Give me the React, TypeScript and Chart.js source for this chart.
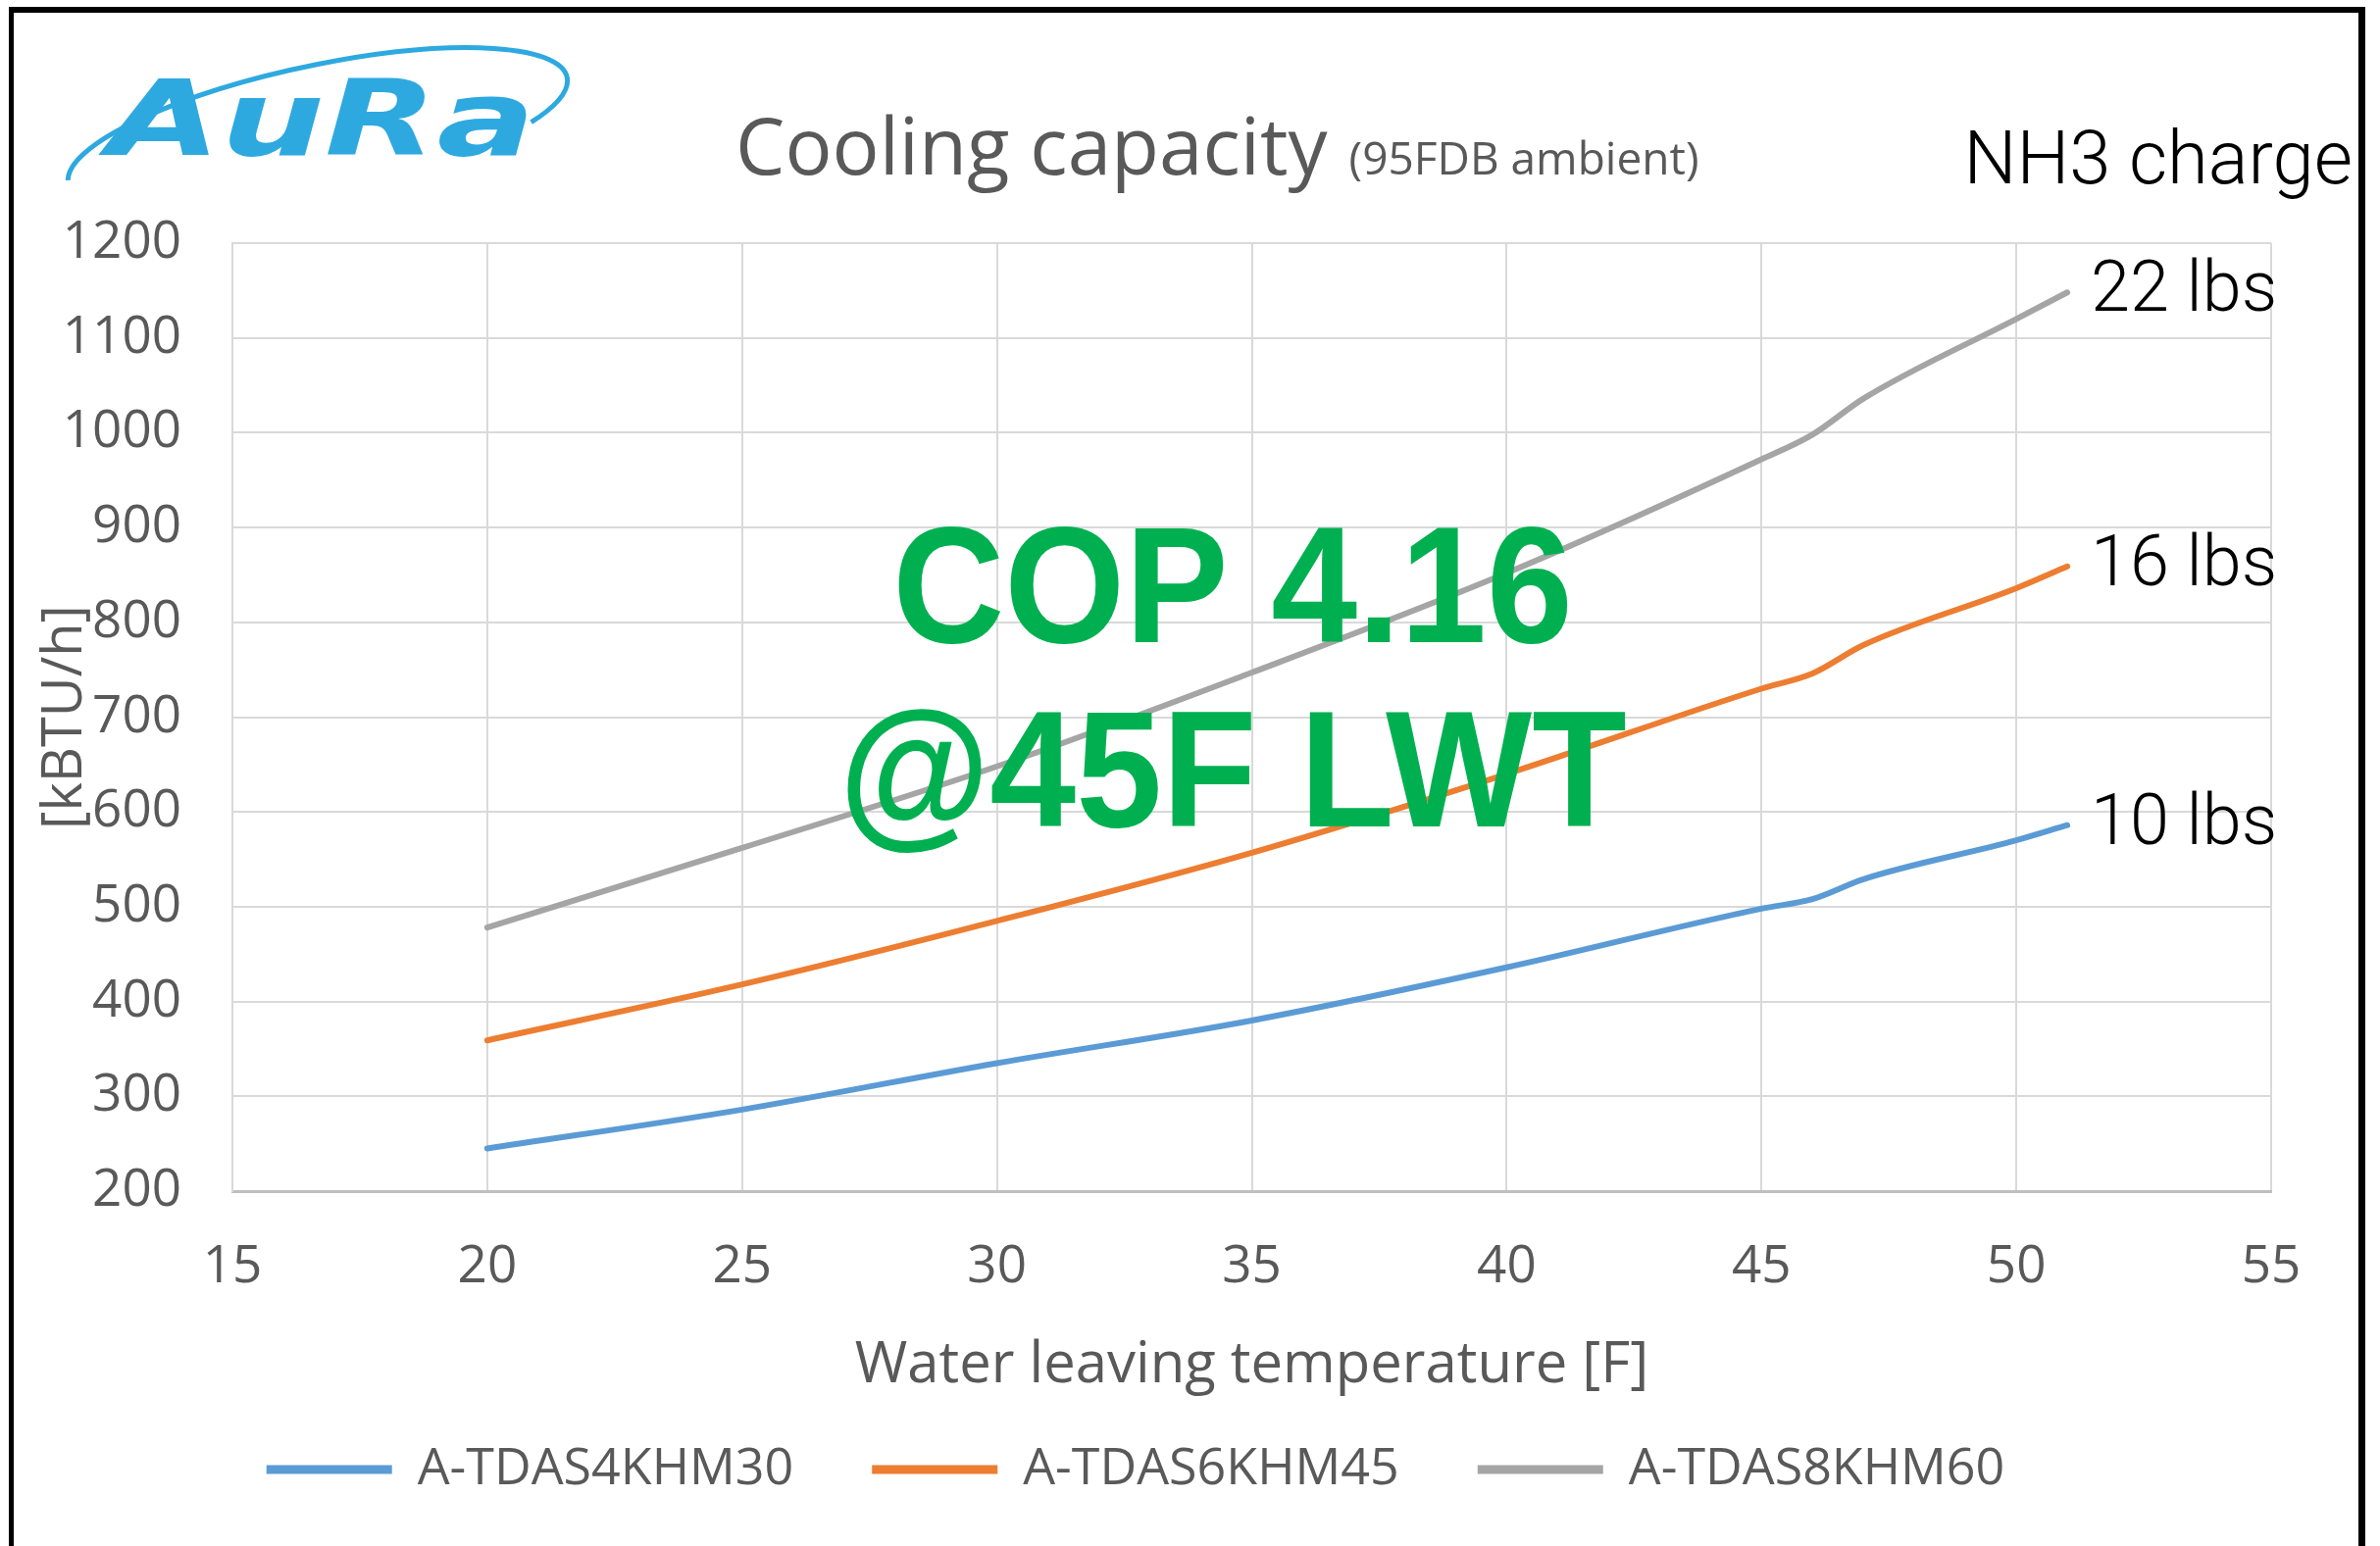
import React, { useEffect, useRef } from 'react';
import { Chart, registerables } from 'chart.js';

Chart.register(...registerables);

// ---- data ----
const temperatures = [20, 25, 30, 35, 40, 45, 46, 47, 50, 51];
const capacityTDAS4 = [245, 286, 335, 380, 436, 498, 508, 529, 570, 586];
const capacityTDAS6 = [359, 418, 485, 557, 640, 730, 746, 776, 836, 859];
const capacityTDAS8 = [478, 562, 648, 747, 852, 972, 998, 1036, 1120, 1148];
const seriesNames = ['A-TDAS4KHM30', 'A-TDAS6KHM45', 'A-TDAS8KHM60'];
const seriesCharges = ['10 lbs', '16 lbs', '22 lbs'];
const seriesColors = ['#5B9BD5', '#ED7D31', '#A5A5A5'];
const xRange = { min: 15, max: 55, step: 5 };
const yRange = { min: 200, max: 1200, step: 100 };
const titleMain = 'Cooling capacity';
const titleNote = '(95FDB ambient)';
const xTitle = 'Water leaving temperature [F]';
const yTitle = '[kBTU/h]';
const chargeHeading = 'NH3 charge';
const copLines = ['COP 4.16', '@45F LWT'];
const logoText = 'AuRa';

const W = 2427;
const H = 1577;
const TEXT_GREY = '#595959';

const overlayPlugin = {
  id: 'overlay',
  afterDraw(chart: any) {
    const ctx: CanvasRenderingContext2D = chart.ctx;
    ctx.save();
    // outer frame
    ctx.fillStyle = '#000';
    ctx.fillRect(9, 7, 5, H - 7);
    ctx.fillRect(9, 7, 2412 - 9, 6);
    ctx.fillRect(2405, 7, 7, H - 7);

    // logo swoosh
    ctx.strokeStyle = '#2EA9E0';
    ctx.lineWidth = 5;
    ctx.beginPath();
    ctx.ellipse(324, 133, 260, 66, -0.21, Math.PI + 0.05, Math.PI * 2 + 0.6, false);
    ctx.stroke();
    // logo text
    ctx.fillStyle = '#2EA9E0';
    ctx.font = 'italic bold 107px "DejaVu Sans"';
    ctx.textAlign = 'left';
    ctx.textBaseline = 'alphabetic';
    const lw = ctx.measureText(logoText).width;
    ctx.save();
    ctx.translate(110, 158);
    ctx.scale(436 / lw, 1);
    ctx.fillText(logoText, 0, 0);
    ctx.restore();

    // title
    ctx.fillStyle = TEXT_GREY;
    ctx.font = '80px "Open Sans"';
    ctx.fillText(titleMain, 750, 178);
    const tw = ctx.measureText(titleMain).width;
    ctx.font = '46px "Open Sans"';
    ctx.fillText(titleNote, 750 + tw + 22, 178);

    // NH3 heading
    ctx.fillStyle = '#000';
    ctx.font = '300 76px Roboto';
    ctx.textAlign = 'right';
    ctx.fillText(chargeHeading, 2399, 187);

    // series end labels
    ctx.textAlign = 'left';
    ctx.font = '300 72px Roboto';
    chart.data.datasets.forEach((_ds: any, i: number) => {
      const meta = chart.getDatasetMeta(i);
      const pt = meta.data[meta.data.length - 1];
      ctx.fillText(seriesCharges[i], pt.x + 24, pt.y + 19);
    });

    // COP annotation
    ctx.fillStyle = '#00B050';
    ctx.font = 'bold 168px "Liberation Sans"';
    ctx.textAlign = 'center';
    ctx.save();
    ctx.translate(1257, 0);
    ctx.scale(0.94, 1);
    ctx.fillText(copLines[0], 0, 655);
    ctx.fillText(copLines[1], 0, 843);
    ctx.restore();

    ctx.restore();
  },
};

export default function App() {
  const canvasRef = useRef<HTMLCanvasElement | null>(null);

  useEffect(() => {
    const canvas = canvasRef.current;
    if (!canvas) return;
    const seriesValues = [capacityTDAS4, capacityTDAS6, capacityTDAS8];
    const chart = new Chart(canvas, {
      type: 'line',
      data: {
        datasets: seriesValues.map((vals, i) => ({
          label: seriesNames[i],
          data: temperatures.map((t, j) => ({ x: t, y: vals[j] })),
          borderColor: seriesColors[i],
          backgroundColor: seriesColors[i],
          borderWidth: 6,
          borderCapStyle: 'round',
          pointRadius: 0,
          fill: false,
          cubicInterpolationMode: 'monotone',
        })),
      },
      options: {
        responsive: false,
        animation: false,
        devicePixelRatio: 1,
        layout: { padding: { top: 248, right: 111, bottom: 42, left: 0 } },
        plugins: {
          title: { display: false },
          tooltip: { enabled: false },
          legend: {
            position: 'bottom',
            labels: {
              font: { family: '"Open Sans"', size: 52 },
              color: TEXT_GREY,
              boxWidth: 128,
              boxHeight: 9,
              padding: 80,
              generateLabels: (c: any) =>
                (Chart.defaults as any).plugins.legend.labels
                  .generateLabels(c)
                  .map((l: any) => ({ ...l, lineWidth: 0 })),
            },
          },
        },
        scales: {
          x: {
            type: 'linear',
            min: xRange.min,
            max: xRange.max,
            ticks: {
              stepSize: xRange.step,
              color: TEXT_GREY,
              font: { family: '"Open Sans"', size: 53 },
              padding: 46,
              callback: (v: any) => String(v),
            },
            grid: { color: '#D9D9D9', lineWidth: 2, drawTicks: false },
            border: { color: '#BFBFBF', width: 3 },
            title: {
              display: true,
              text: xTitle,
              color: TEXT_GREY,
              font: { family: '"Open Sans"', size: 58 },
              padding: { top: 0, bottom: -35 },
            },
            afterFit: (s: any) => {
              s.height = 178;
            },
          },
          y: {
            type: 'linear',
            min: yRange.min,
            max: yRange.max,
            ticks: {
              stepSize: yRange.step,
              color: TEXT_GREY,
              font: { family: '"Open Sans"', size: 53 },
              padding: 52,
              callback: (v: any) => String(v),
            },
            grid: { color: '#D9D9D9', lineWidth: 2, drawTicks: false },
            border: { color: '#D9D9D9', width: 2 },
            title: {
              display: true,
              text: yTitle,
              color: TEXT_GREY,
              font: { family: '"Open Sans"', size: 56 },
              padding: { top: 33, bottom: 0 },
            },
            afterFit: (s: any) => {
              s.width = 237;
            },
          },
        },
      } as any,
      plugins: [overlayPlugin],
    });
    return () => chart.destroy();
  }, []);

  return (
    <div style={{ position: 'absolute', left: 0, top: 0, width: W, height: H, background: '#fff' }}>
      <canvas ref={canvasRef} width={W} height={H} style={{ width: W, height: H, display: 'block' }} />
    </div>
  );
}
